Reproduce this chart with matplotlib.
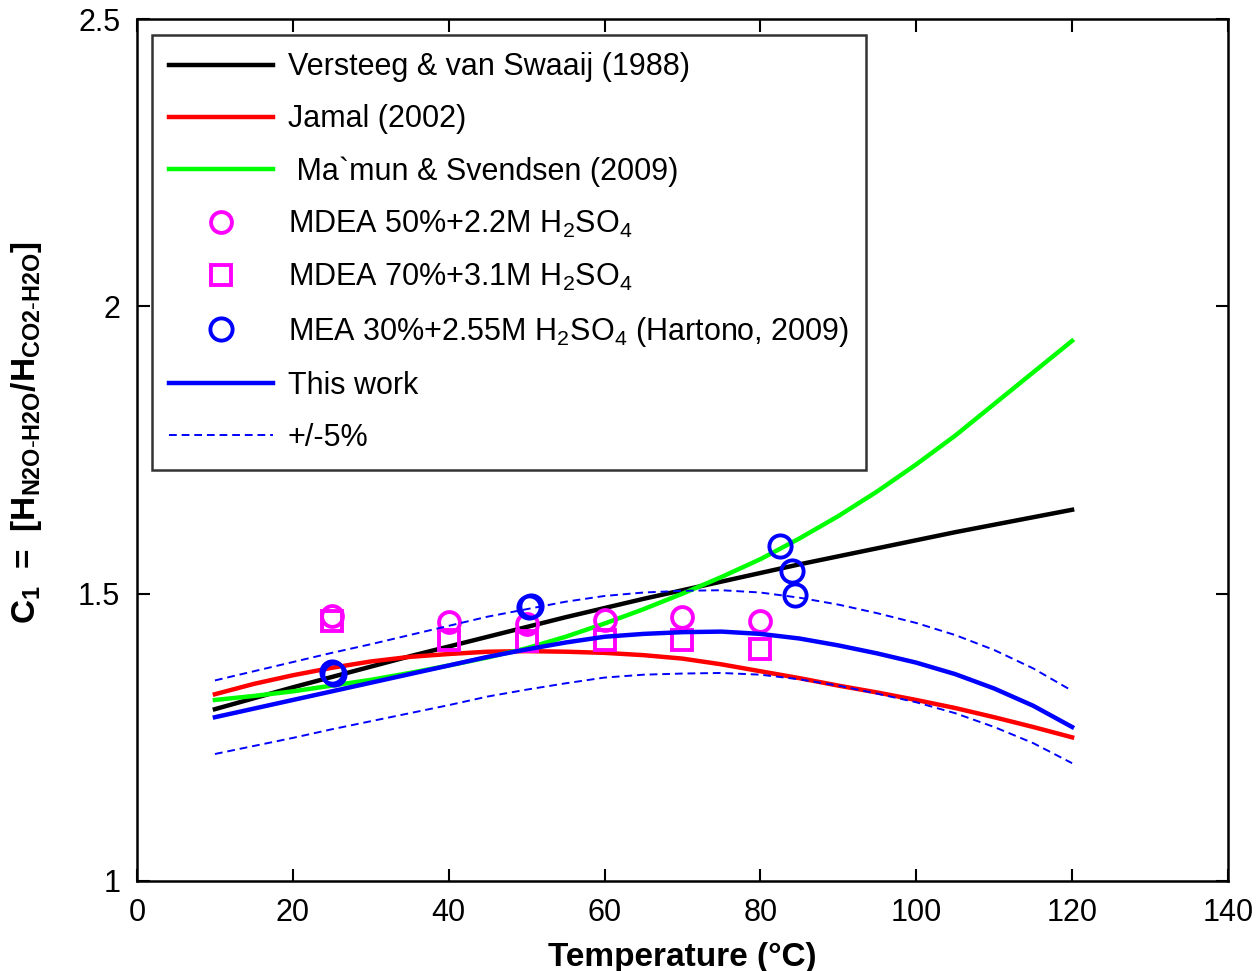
import matplotlib
matplotlib.use("Agg")
import matplotlib.pyplot as plt

plt.rcParams['font.family'] = ['Liberation Sans', 'DejaVu Sans']
plt.rcParams['mathtext.fontset'] = 'custom'
plt.rcParams['mathtext.rm'] = 'Liberation Sans'
plt.rcParams['mathtext.bf'] = 'Liberation Sans:bold'
plt.rcParams['mathtext.default'] = 'rm'

# Curves (temperature in °C)
T = [10, 15, 20, 25, 30, 35, 40, 45, 50, 55, 60, 65, 70, 75, 80, 85, 90, 95, 100, 105, 110, 115, 120]
versteeg = [1.299, 1.318, 1.337, 1.355, 1.373, 1.391, 1.408, 1.425, 1.442, 1.459, 1.475, 1.491,
            1.506, 1.521, 1.536, 1.551, 1.565, 1.579, 1.593, 1.607, 1.620, 1.633, 1.646]
jamal = [1.325, 1.343, 1.358, 1.371, 1.382, 1.390, 1.395, 1.399, 1.400, 1.399, 1.397, 1.393,
         1.387, 1.377, 1.365, 1.353, 1.340, 1.328, 1.315, 1.301, 1.285, 1.268, 1.250]
mamun = [1.315, 1.322, 1.330, 1.340, 1.350, 1.362, 1.375, 1.389, 1.405, 1.425, 1.448, 1.473,
         1.500, 1.529, 1.560, 1.596, 1.635, 1.678, 1.725, 1.775, 1.830, 1.885, 1.940]
this_work = [1.285, 1.300, 1.315, 1.330, 1.345, 1.360, 1.375, 1.390, 1.403, 1.415, 1.425, 1.430,
             1.433, 1.434, 1.430, 1.422, 1.410, 1.396, 1.380, 1.360, 1.335, 1.305, 1.268]
upper5 = [1.349, 1.365, 1.381, 1.397, 1.412, 1.428, 1.444, 1.460, 1.473, 1.486, 1.496, 1.502,
          1.505, 1.506, 1.502, 1.493, 1.481, 1.466, 1.449, 1.428, 1.402, 1.370, 1.331]
lower5 = [1.221, 1.235, 1.249, 1.264, 1.278, 1.292, 1.306, 1.321, 1.333, 1.344, 1.354, 1.359,
          1.361, 1.362, 1.359, 1.351, 1.340, 1.326, 1.311, 1.292, 1.268, 1.240, 1.205]

# Experimental data
mdea50_T = [25, 40, 50, 60, 70, 80]
mdea50_C = [1.462, 1.451, 1.447, 1.455, 1.459, 1.453]
mdea70_T = [25, 40, 50, 60, 70, 80]
mdea70_C = [1.453, 1.420, 1.418, 1.420, 1.420, 1.404]
mea30_T = [25, 25.3, 50.3, 50.6, 82.5, 84.1, 84.4]
mea30_C = [1.363, 1.360, 1.477, 1.479, 1.583, 1.540, 1.497]

fig = plt.figure(figsize=(12.58, 9.71), dpi=100)
ax = fig.add_axes([0.1089, 0.0927, 0.8672, 0.8877])

ax.plot(T, versteeg, color='black', lw=3.2, label='Versteeg & van Swaaij (1988)')
ax.plot(T, jamal, color='#ff0000', lw=3.2, label='Jamal (2002)')
ax.plot(T, mamun, color='#00ff00', lw=3.2, label=' Ma`mun & Svendsen (2009)')
ax.plot(mdea50_T, mdea50_C, ls='none', marker='o', ms=15, mfc='none', mec='#ff00ff', mew=2.8,
        label='MDEA 50%+2.2M H$_2$SO$_4$')
ax.plot(mdea70_T, mdea70_C, ls='none', marker='s', ms=15, mfc='none', mec='#ff00ff', mew=2.8,
        label='MDEA 70%+3.1M H$_2$SO$_4$')
ax.plot(mea30_T, mea30_C, ls='none', marker='o', ms=16, mfc='none', mec='#0000ff', mew=2.8,
        label='MEA 30%+2.55M H$_2$SO$_4$ (Hartono, 2009)')
ax.plot(T, this_work, color='#0000ff', lw=3.2, label='This work')
ax.plot(T, upper5, color='#0000ff', lw=1.4, ls=(0, (4, 2.5)), label='+/-5%')
ax.plot(T, lower5, color='#0000ff', lw=1.4, ls=(0, (4, 2.5)))

ax.set_xlim(0, 140)
ax.set_ylim(1, 2.5)
ax.set_xticks([0, 20, 40, 60, 80, 100, 120, 140])
ax.set_yticks([1, 1.5, 2, 2.5])
ax.set_yticklabels(['1', '1.5', '2', '2.5'])
ax.tick_params(direction='in', length=9, width=1.5, labelsize=22, top=True, right=True)
ax.tick_params(axis='x', pad=12)
ax.tick_params(axis='y', pad=12)
for s in ax.spines.values():
    s.set_linewidth(1.8)

ax.set_xlabel('Temperature (°C)', fontsize=24, fontweight='bold', labelpad=10)
ax.set_ylabel(r'$\mathbf{C_1\ =\ [H_{N2O\text{-}H2O}/H_{CO2\text{-}H2O}]}$', fontsize=24)
ax.yaxis.set_label_coords(-0.085, 0.52)

leg = ax.legend(loc='upper left', bbox_to_anchor=(0.0137, 0.981), borderaxespad=0,
                fontsize=22, handlelength=3.4, handletextpad=0.5, labelspacing=0.72,
                fancybox=False, frameon=True, edgecolor='black', borderpad=0.55)
leg.get_frame().set_linewidth(1.8)

fig.savefig('out.png', dpi=100)
